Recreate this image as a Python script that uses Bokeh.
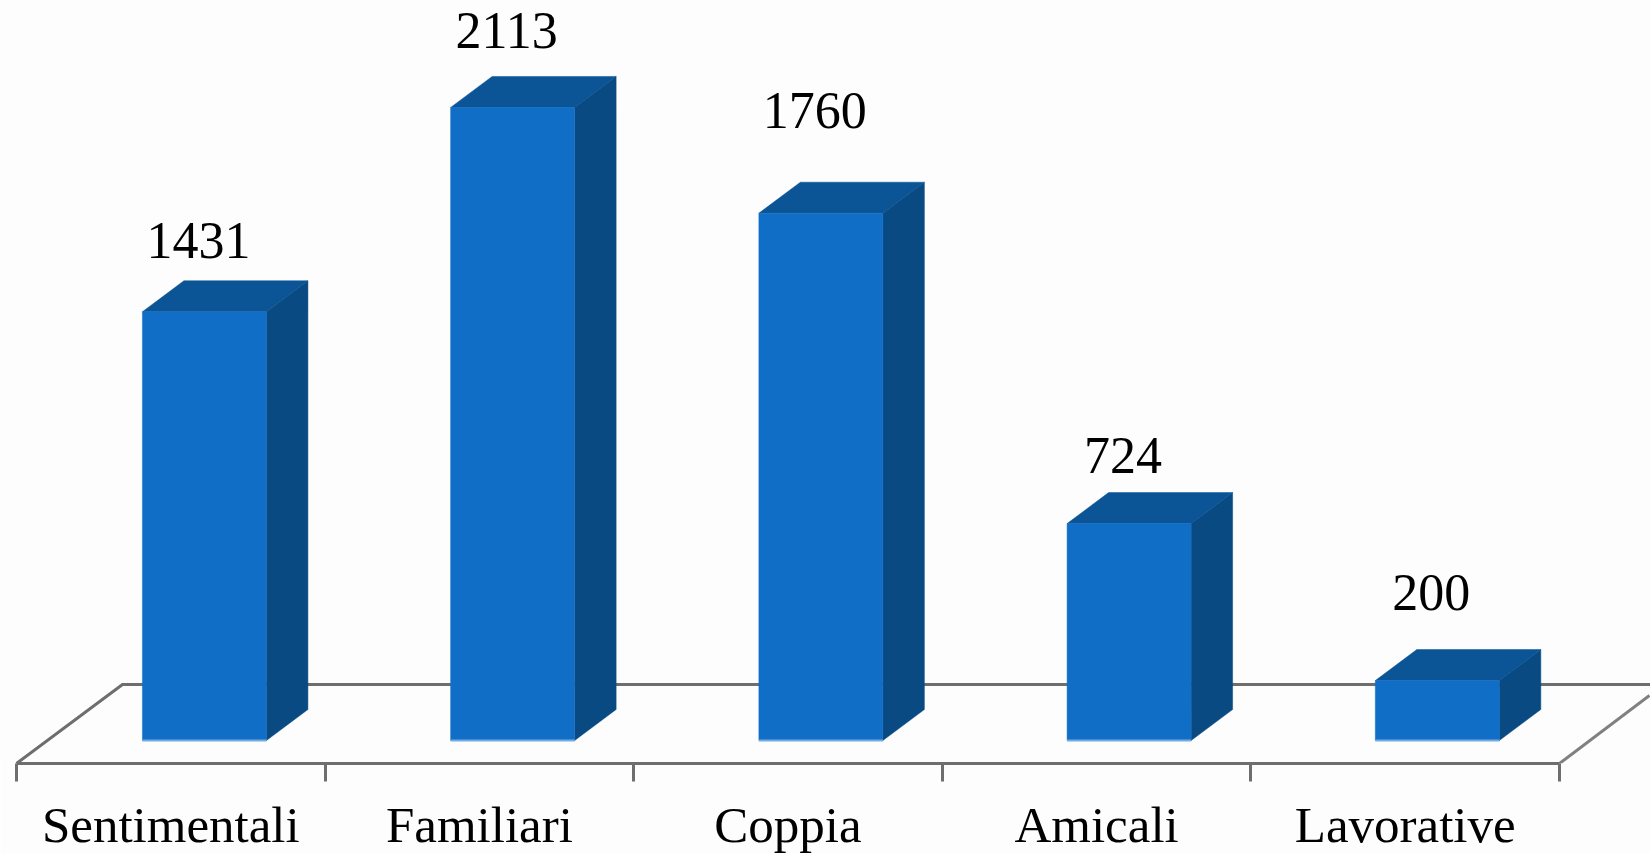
from bokeh.plotting import figure
from bokeh.models import ColumnDataSource, Range1d, LinearAxis, FixedTicker
from bokeh.core.properties import value
from bokeh.embed import file_html
from bokeh.resources import INLINE

categories = ["Sentimentali", "Familiari", "Coppia", "Amicali", "Lavorative"]
values = [1431, 2113, 1760, 724, 200]
label_lift_px = [71, 77, 103, 68, 88]

FRONT, TOP, SIDE = "#106EC6", "#0B5596", "#0A4A82"
LINE = "#6E6E6E"
BG = "#FDFDFD"
FONT = "Liberation Serif"

FRAME_W, FRAME_H = 1650, 763
px_x = 308.6          # pixels per category slot
px_y = 0.2996         # pixels per value unit
left_px = 16          # x pixel of the first tick
depth_x = 41.5 / px_x
depth_y = 31 / px_y
bar_left = 0.408
bar_pitch = 0.9988
bar_w = 124 / px_x
floor_back = 56 / px_y
floor_front = -23 / px_y
floor_in_left = 106 / px_x

n = len(categories)
x_start = -left_px / px_x
x_end = x_start + FRAME_W / px_x
y_start = floor_front
y_end = y_start + FRAME_H / px_y

p = figure(frame_width=FRAME_W, frame_height=FRAME_H, output_backend="svg", toolbar_location=None,
           x_range=Range1d(x_start, x_end), y_range=Range1d(y_start, y_end),
           x_axis_location=None, y_axis_location=None,
           min_border_left=0, min_border_right=0, min_border_top=0, min_border_bottom=0,
           background_fill_color=BG, border_fill_color=BG, outline_line_color=None)
p.grid.visible = False

# floor
p.line([0, floor_in_left, x_end], [floor_front, floor_back, floor_back],
       line_color=LINE, line_width=3)
p.line([n, n + 90 / px_x], [floor_front, floor_front + 68 / px_y],
       line_color="#808080", line_width=3)

lefts = [i * bar_pitch + bar_left for i in range(n)]
rights = [l + bar_w for l in lefts]
centers = [l + bar_w / 2 for l in lefts]

side_xs = [[r, r + depth_x, r + depth_x, r] for r in rights]
side_ys = [[0, depth_y, v + depth_y, v] for v in values]
top_xs = [[l, l + depth_x, r + depth_x, r] for l, r in zip(lefts, rights)]
top_ys = [[v, v + depth_y, v + depth_y, v] for v in values]
p.patches(side_xs, side_ys, fill_color=SIDE, line_color=SIDE, line_width=0.5)
p.patches(top_xs, top_ys, fill_color=TOP, line_color=TOP, line_width=0.5)
p.vbar(x=centers, width=bar_w, bottom=0, top=values, fill_color=FRONT, line_color=FRONT, line_width=0.5)
p.segment(x0=lefts, x1=rights, y0=[0] * n, y1=[0] * n, line_color="#74ABE2", line_width=2)

# y_offset is measured downward, so a lift is negative
src = ColumnDataSource(dict(x=centers, y=values, t=[str(v) for v in values],
                            dy=[-d for d in label_lift_px]))
p.text(x="x", y="y", text="t", source=src, x_offset=-6, y_offset="dy",
       text_align="center", text_baseline="middle",
       text_font=value(FONT), text_font_size="52px", text_color="#000000")

axis = LinearAxis(
    ticker=FixedTicker(ticks=[i + 0.5 for i in range(n)], minor_ticks=list(range(n + 1))),
    major_label_overrides={i + 0.5: c for i, c in enumerate(categories)},
    bounds=(0, n),
    axis_line_color=LINE, axis_line_width=3,
    major_tick_line_color=None, major_tick_in=0, major_tick_out=0,
    minor_tick_line_color=LINE, minor_tick_line_width=3, minor_tick_in=0, minor_tick_out=18,
    major_label_text_font=FONT, major_label_text_font_size="51px",
    major_label_text_color="#000000", major_label_standoff=15,
)
p.add_layout(axis, "below")

open("out.html", "w").write(file_html(p, INLINE))
